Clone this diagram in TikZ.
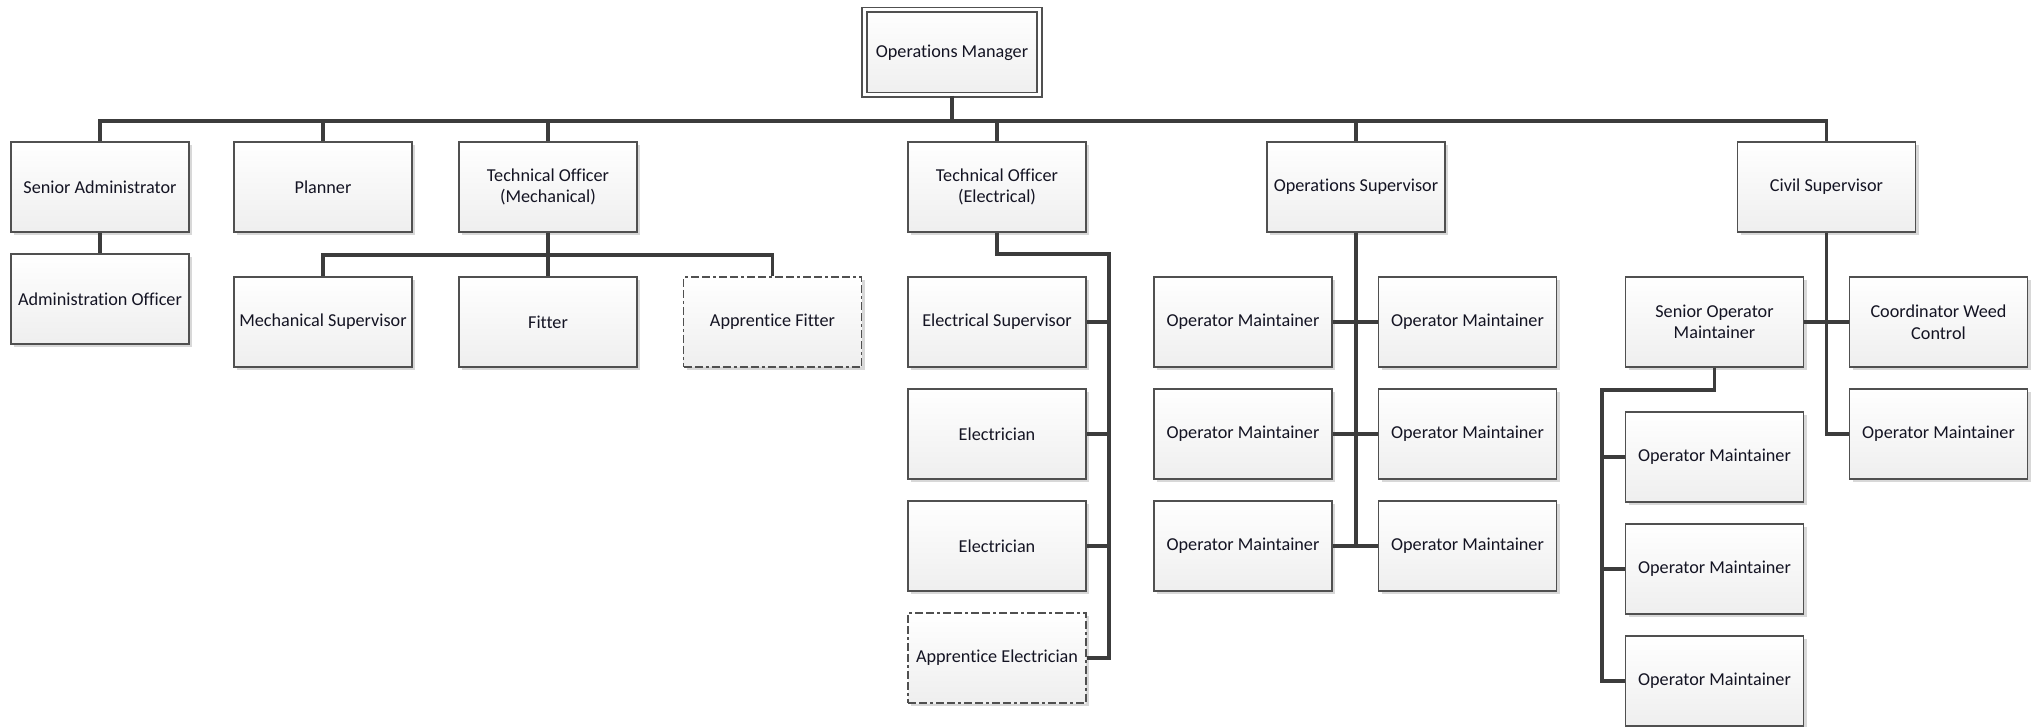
\documentclass[tikz,border=0pt]{standalone}
\usepackage{fontspec}
\setmainfont[RawFeature=-liga]{Carlito}
\usetikzlibrary{shadows}
\definecolor{boxline}{RGB}{80,80,80}
\definecolor{linkcol}{RGB}{60,60,60}
\definecolor{txt}{RGB}{20,20,35}
\tikzset{
  box/.style={rectangle, draw=boxline, line width=1.6pt, top color=white, bottom color=gray!13,
    minimum width=178pt, minimum height=90pt, inner sep=2pt, align=center,
    font=\fontsize{18.2}{21.5}\selectfont, text=txt,
    drop shadow={shadow xshift=3pt, shadow yshift=-3pt, fill=gray!60, opacity=0.5}},
  dbox/.style={box, dash pattern=on 8pt off 3pt on 8pt off 3pt on 3pt off 3pt},
  topbox/.style={box, double, double distance=3pt, minimum width=175pt, minimum height=85pt},
  link/.style={draw=linkcol, line width=3.2pt},
}
\begin{document}
\begin{tikzpicture}[x=1pt, y=-1pt]
\useasboundingbox (0,0) rectangle (2038,727);
% nodes
\node[topbox] (om) at (952,52.5) {Operations Manager};
\node[box] (sa) at (100,187) {Senior Administrator};
\node[box] (pl) at (323,187) {Planner};
\node[box] (tom) at (548,187) {Technical Officer\\(Mechanical)};
\node[box] (toe) at (997,187) {Technical Officer\\(Electrical)};
\node[box] (os) at (1356,187) {Operations Supervisor};
\node[box] (cs) at (1826.5,187) {Civil Supervisor};
\node[box] (ao) at (100,299) {Administration Officer};
\node[box] (ms) at (323,322) {Mechanical Supervisor};
\node[box] (fi) at (548,322) {Fitter};
\node[dbox] (af) at (772.5,322) {Apprentice Fitter};
\node[box] (es) at (997,322) {Electrical Supervisor};
\node[box] (e1) at (997,434) {Electrician};
\node[box] (e2) at (997,546) {Electrician};
\node[dbox] (ae) at (997,658) {Apprentice Electrician};
\node[box] (om11) at (1243,322) {Operator Maintainer};
\node[box] (om12) at (1467.5,322) {Operator Maintainer};
\node[box] (om21) at (1243,434) {Operator Maintainer};
\node[box] (om22) at (1467.5,434) {Operator Maintainer};
\node[box] (om31) at (1243,546) {Operator Maintainer};
\node[box] (om32) at (1467.5,546) {Operator Maintainer};
\node[box] (som) at (1714.5,322) {Senior Operator\\Maintainer};
\node[box] (cwc) at (1938.5,322) {Coordinator Weed\\Control};
\node[box] (omr) at (1938.5,434) {Operator Maintainer};
\node[box] (os1) at (1714.5,457) {Operator Maintainer};
\node[box] (os2) at (1714.5,569) {Operator Maintainer};
\node[box] (os3) at (1714.5,681) {Operator Maintainer};
% connectors
\coordinate (bus) at (952,121);
\draw[link] (om.south) -- (bus);
\draw[link] (sa.north) -- (sa.north |- bus) -- (cs.north |- bus) -- (cs.north);
\foreach \n in {pl,tom,toe,os} \draw[link] (\n.north) -- (\n.north |- bus);
\draw[link] (sa.south) -- (ao.north);
\coordinate (mb) at (548,255);
\draw[link] (tom.south) -- (fi.north);
\draw[link] (ms.north) -- (ms.north |- mb) -- (af.north |- mb) -- (af.north);
\coordinate (ex) at (1109,254);
\draw[link] (toe.south) -- (toe.south |- ex) -- (ex) -- (ex |- ae.east) -- (ae.east);
\foreach \n in {es,e1,e2} \draw[link] (\n.east) -- (\n.east -| ex);
\draw[link] (os.south) -- (os.south |- om31.east);
\foreach \r in {1,2,3} \draw[link] (om\r1.east) -- (om\r2.west);
\draw[link] (cs.south) -- (cs.south |- omr.west) -- (omr.west);
\draw[link] (som.east) -- (cwc.west);
\coordinate (sx) at (1602,390);
\draw[link] (som.south) -- (som.south |- sx) -- (sx) -- (sx |- os3.west) -- (os3.west);
\foreach \n in {os1,os2} \draw[link] (\n.west) -- (\n.west -| sx);
\end{tikzpicture}
\end{document}
